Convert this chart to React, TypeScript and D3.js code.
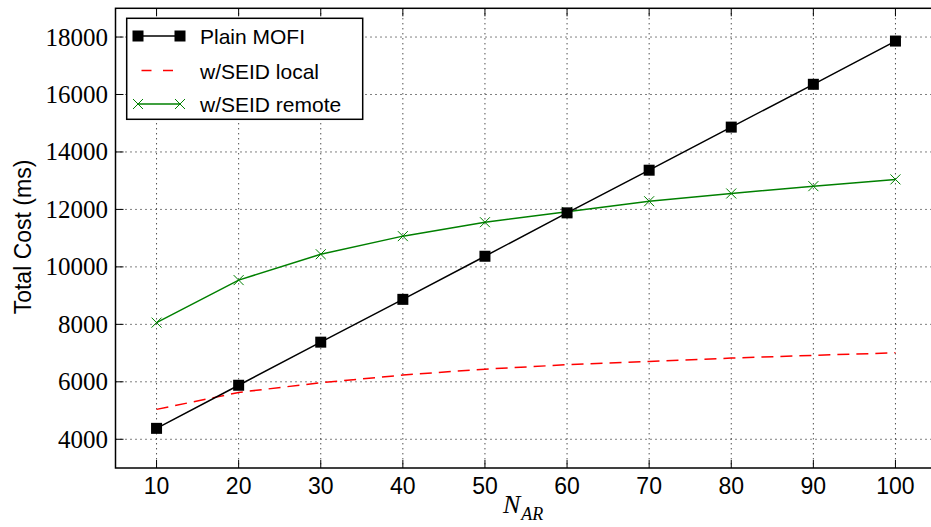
import React from "react";
import * as d3 from "d3";

const nAR = [10, 20, 30, 40, 50, 60, 70, 80, 90, 100];
const plainMofi = [4380, 5880, 7380, 8870, 10370, 11880, 13365, 14865, 16355, 17860];
const seidLocal = [5040, 5630, 5970, 6235, 6440, 6595, 6710, 6825, 6920, 7010];
const seidRemote = [8060, 9540, 10440, 11070, 11555, 11915, 12285, 12555, 12810, 13045];

const xTicks = [10, 20, 30, 40, 50, 60, 70, 80, 90, 100];
const yTicks = [4000, 6000, 8000, 10000, 12000, 14000, 16000, 18000];

const W = 931;
const H = 527;
const left = 115.5;
const right = 936.5;
const top = 8.3;
const bottom = 468;

const sans = "'Liberation Sans', Arial, sans-serif";
const serif = "'Liberation Serif', 'DejaVu Serif', serif";

const App = () => {
  const x = d3.scaleLinear().domain([5, 105]).range([left, right]);
  const y = d3.scaleLinear().domain([3000, 19000]).range([bottom, top]);

  const line = d3
    .line<number>()
    .x((d, i) => x(nAR[i]))
    .y((d) => y(d));

  const cross = (cx: number, cy: number, s: number) =>
    `M${cx - s},${cy - s}L${cx + s},${cy + s}M${cx - s},${cy + s}L${cx + s},${cy - s}`;

  // legend
  const lgX = 126.7;
  const lgY = 18.3;
  const lgW = 236;
  const lgH = 101;
  const rows = [36, 70.5, 104];

  return (
    <div style={{ position: "fixed", left: 0, top: 0 }}>
      <svg width={W} height={H} style={{ display: "block", background: "#fff" }}>
        <defs>
          <clipPath id="plot">
            <rect x={left} y={top} width={right - left} height={bottom - top} />
          </clipPath>
        </defs>

        {/* grid */}
        <g stroke="#000" strokeWidth={1} strokeDasharray="1,4">
          {xTicks.map((t) => (
            <line key={"gx" + t} x1={x(t)} x2={x(t)} y1={top} y2={bottom} />
          ))}
          {yTicks.map((t) => (
            <line key={"gy" + t} x1={left} x2={right} y1={y(t)} y2={y(t)} />
          ))}
        </g>

        {/* series */}
        <g clipPath="url(#plot)" fill="none">
          <path d={line(seidLocal) || ""} stroke="#ff0000" strokeWidth={1.5} strokeDasharray="12,7" />
          <path d={line(seidRemote) || ""} stroke="#008000" strokeWidth={1.5} />
          <path d={line(plainMofi) || ""} stroke="#000" strokeWidth={1.5} />
        </g>
        <g>
          {seidRemote.map((v, i) => (
            <path key={"r" + i} d={cross(x(nAR[i]), y(v), 5)} stroke="#008000" strokeWidth={1} fill="none" />
          ))}
          {plainMofi.map((v, i) => (
            <rect key={"p" + i} x={x(nAR[i]) - 5.5} y={y(v) - 5.5} width={11} height={11} fill="#000" />
          ))}
        </g>

        {/* ticks */}
        <g stroke="#000" strokeWidth={1}>
          {xTicks.map((t) => (
            <g key={"tx" + t}>
              <line x1={x(t)} x2={x(t)} y1={bottom} y2={bottom - 8} />
              <line x1={x(t)} x2={x(t)} y1={top} y2={top + 8} />
            </g>
          ))}
          {yTicks.map((t) => (
            <line key={"ty" + t} x1={left} x2={left + 8} y1={y(t)} y2={y(t)} />
          ))}
        </g>

        {/* frame */}
        <rect x={left} y={top} width={right - left} height={bottom - top} fill="none" stroke="#000" strokeWidth={1.5} />

        {/* tick labels */}
        <g fontFamily={sans} fontSize={23} textAnchor="middle" fill="#000">
          {xTicks.map((t) => (
            <text key={"lx" + t} x={x(t)} y={494}>
              {t}
            </text>
          ))}
        </g>
        <g fontFamily={serif} fontSize={25} textAnchor="end" fill="#000">
          {yTicks.map((t) => (
            <text key={"ly" + t} x={108} y={y(t) + 8.5}>
              {t}
            </text>
          ))}
        </g>

        {/* axis labels */}
        <text
          transform={`translate(31,237) rotate(-90)`}
          textAnchor="middle"
          fontFamily={sans}
          fontSize={23}
          fill="#000"
        >
          Total Cost (ms)
        </text>
        <text x={503} y={513} fontFamily={serif} fontStyle="italic" fontSize={26} fill="#000">
          N
          <tspan fontSize={18} dy={7} dx={1}>
            AR
          </tspan>
        </text>

        {/* legend */}
        <rect x={lgX} y={lgY} width={lgW} height={lgH} fill="#fff" stroke="#000" strokeWidth={1.5} />
        <line x1={138} x2={180} y1={rows[0]} y2={rows[0]} stroke="#000" strokeWidth={1.5} />
        <rect x={138 - 5.5} y={rows[0] - 5.5} width={11} height={11} fill="#000" />
        <rect x={180 - 5.5} y={rows[0] - 5.5} width={11} height={11} fill="#000" />
        <line x1={141.5} x2={180} y1={rows[1]} y2={rows[1]} stroke="#ff0000" strokeWidth={1.5} strokeDasharray="10,11.5" />
        <line x1={138} x2={180} y1={rows[2]} y2={rows[2]} stroke="#008000" strokeWidth={1.5} />
        <path d={cross(138, rows[2], 5) + cross(180, rows[2], 5)} stroke="#008000" strokeWidth={1} fill="none" />
        <g fontFamily={sans} fontSize={21} fill="#000">
          <text x={200} y={rows[0] + 8}>Plain MOFI</text>
          <text x={200} y={rows[1] + 8}>w/SEID local</text>
          <text x={200} y={rows[2] + 8}>w/SEID remote</text>
        </g>
      </svg>
    </div>
  );
};

export default App;
